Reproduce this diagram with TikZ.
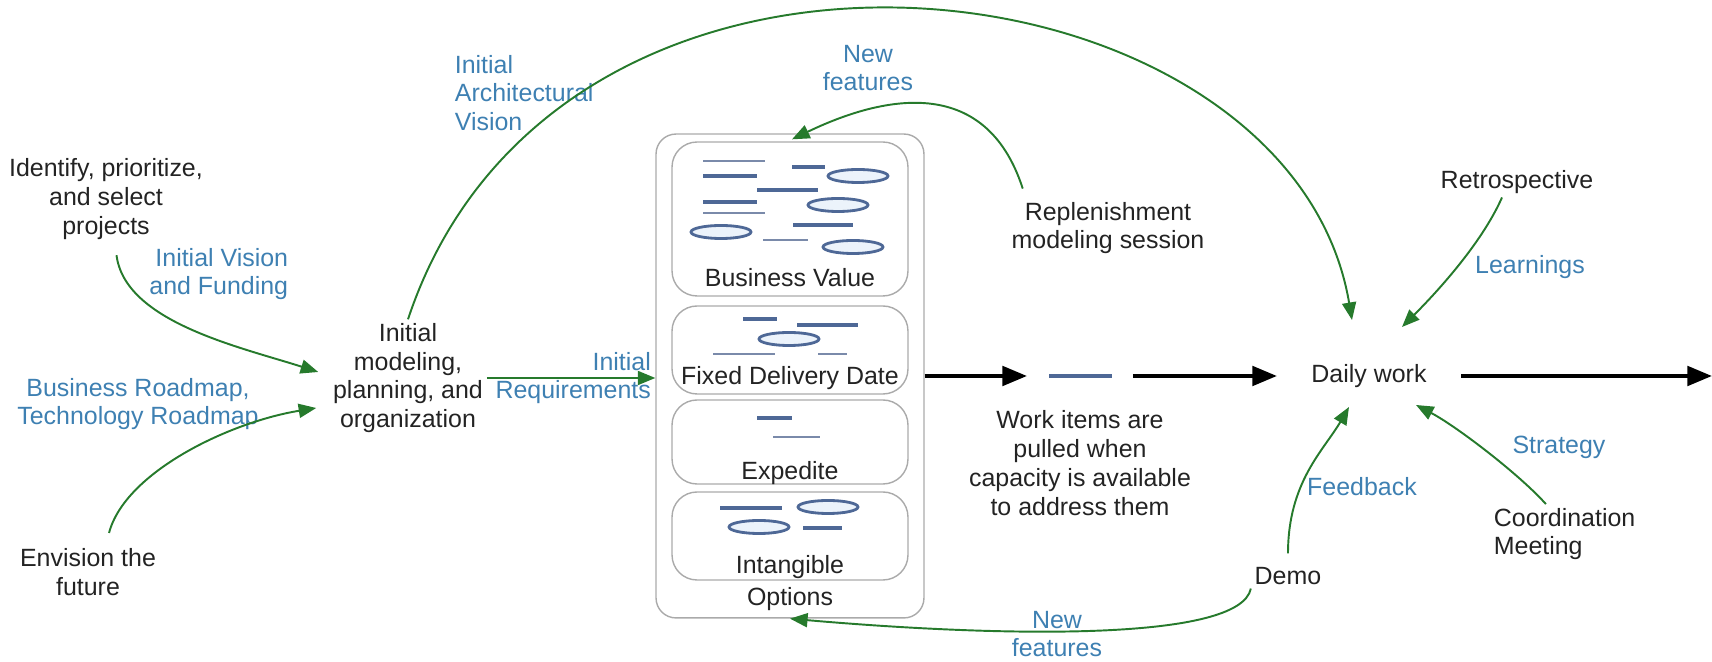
\documentclass[tikz,border=0pt]{standalone}
\usepackage{fontspec}
\setmainfont{Liberation Sans}
\usetikzlibrary{arrows.meta}

\definecolor{flowgreen}{RGB}{38,122,44}
\definecolor{noteblue}{RGB}{62,128,178}
\definecolor{barblue}{RGB}{78,104,150}
\definecolor{thinblue}{RGB}{122,138,170}
\definecolor{chipfill}{RGB}{236,243,251}
\definecolor{boxgray}{RGB}{170,170,170}
\definecolor{inkgray}{RGB}{35,35,35}

\tikzset{
  txt/.style={align=center, inner sep=2pt, text=inkgray, font=\fontsize{14.2}{16.4}\selectfont},
  note/.style={txt, text=noteblue},
  flow/.style={flowgreen, line width=1.1pt, -{Triangle[length=10pt,width=8pt]}},
  pull/.style={black, line width=2.3pt, -{Triangle[length=14pt,width=11pt]}},
  optbox/.style={draw=boxgray, line width=0.8pt, rounded corners=0.4cm, minimum width=5.36cm, minimum height=9.68cm},
  lane/.style={draw=boxgray, line width=0.8pt, rounded corners=0.5cm, minimum width=4.72cm},
  bar/.style={barblue, line width=2.2pt},
  thinbar/.style={thinblue, line width=1.3pt},
  chip/.style={draw=barblue, fill=chipfill, line width=1.6pt},
}

\begin{document}
\begin{tikzpicture}[x=0.02cm, y=0.02cm]
    \useasboundingbox (0,0) rectangle (1712,662);

    % Inputs
    \node[txt] (identify) at (106,463) {Identify, prioritize,\\and select\\projects};
    \node[txt] (envision) at (88,90) {Envision the\\future};
    \node[txt] (initmodel) at (408,284) {Initial\\modeling,\\planning, and\\organization};
    \node[note, anchor=east, align=right] (visionfund) at (292,388) {Initial Vision\\and Funding};
    \node[note] (roadmap) at (138,258) {Business Roadmap,\\Technology Roadmap};
    \node[note, anchor=west, align=left] (archvision) at (451,569) {Initial\\Architectural\\Vision};

    % Options
    \node[optbox] (opts) at (790,286) {};
    \node[lane, minimum height=3.08cm] (bv) at (790,443) {};
    \node[lane, minimum height=1.76cm] (fdd) at (790,312) {};
    \node[lane, minimum height=1.68cm] (exp) at (790,220) {};
    \node[lane, minimum height=1.76cm] (intg) at (790,126) {};
    \node[txt] (bvtxt) at (790,384) {Business Value};
    \node[txt] (fddtxt) at (790,284) {Fixed Delivery Date};
    \node[txt] (exptxt) at (790,189) {Expedite};
    \node[txt] (intgtxt) at (790,95) {Intangible};
    \node[txt] (optstxt) at (790,63) {Options};

    % Work items in the lanes
    \foreach \xa/\xb/\y in {703/757/486, 792/825/495, 757/818/472, 703/757/460, 793/853/437,
                            743/777/343, 797/858/337, 757/792/244, 720/782/154, 803/842/134} {
        \draw[bar] (\xa,\y) -- (\xb,\y);
    }
    \foreach \xa/\xb/\y in {703/765/501, 703/765/449, 763/808/422, 713/775/308, 818/847/308, 773/820/225} {
        \draw[thinbar] (\xa,\y) -- (\xb,\y);
    }
    \foreach \x/\y in {858/486, 838/457, 721/430, 853/415, 789/323, 828/155, 759/135} {
        \draw[chip] (\x,\y) ellipse [x radius=30, y radius=6.5];
    }

    % Pull
    \node[fill=barblue, inner sep=0pt, minimum width=1.26cm, minimum height=2.2pt, outer xsep=0.43cm] (item) at (1080,286) {};
    \node[txt] (workitems) at (1080,199) {Work items are\\pulled when\\capacity is available\\to address them};
    \node[txt] (replen) at (1108,434) {Replenishment\\modeling session};
    \node[note] (newtop) at (868,594) {New\\features};
    \node[txt, outer xsep=0.62cm] (daily) at (1369,286) {Daily work};
    \coordinate (exit) at (1712,286);

    % Daily work
    \node[txt] (retro) at (1517,480) {Retrospective};
    \node[note] (learn) at (1530,395) {Learnings};
    \node[note] (strategy) at (1559,215) {Strategy};
    \node[txt, anchor=west, align=left] (coord) at (1490,128) {Coordination\\Meeting};
    \node[note] (feedback) at (1362,175) {Feedback};
    \node[txt] (demo) at (1288,86) {Demo};
    \node[note] (newbot) at (1057,28) {New\\features};

    % Main flow
    \draw[pull] (opts.east) -- (item.west);
    \draw[pull] (item.east) -- (daily.west);
    \draw[pull] (daily.east) -- (exit);

    % Green connectors
    \draw[flow, shorten <=0.24cm] ([shift={(9,0)}]identify.south) .. controls (125,340) and (240,315) .. ([shift={(-11,6)}]initmodel.west);
    \draw[flow, shorten <=0.24cm] ([shift={(18,0)}]envision.north) .. controls (125,190) and (230,240) .. ([shift={(-13,-30)}]initmodel.west);
    \draw[flow] (initmodel.east) -- node[note, pos=1, anchor=east, align=right] {Initial\\Requirements} (initmodel.east -| opts.west);
    \draw[flow] (initmodel.north) .. controls (560,800) and (1290,710) .. ([shift={(-17,56)}]daily.center);
    \draw[flow, shorten <=0.2cm] (replen.160) .. controls (985,590) and (880,565) .. ([shift={(2,-6)}]opts.north);
    \draw[flow] ([shift={(-15,0)}]retro.south) .. controls (1481,417) and (1434,367) .. ([shift={(33,49)}]daily.center);
    \draw[flow] (coord.122) .. controls (1519,188) and (1456,236) .. ([shift={(47,-29)}]daily.center);
    \draw[flow, shorten <=0.2cm] (demo.north) .. controls (1288,180) and (1324,212) .. ([shift={(-20,-31)}]daily.center);
    \draw[flow] (demo.south west) .. controls (1240,20) and (1000,25) .. (opts.south);
\end{tikzpicture}
\end{document}
